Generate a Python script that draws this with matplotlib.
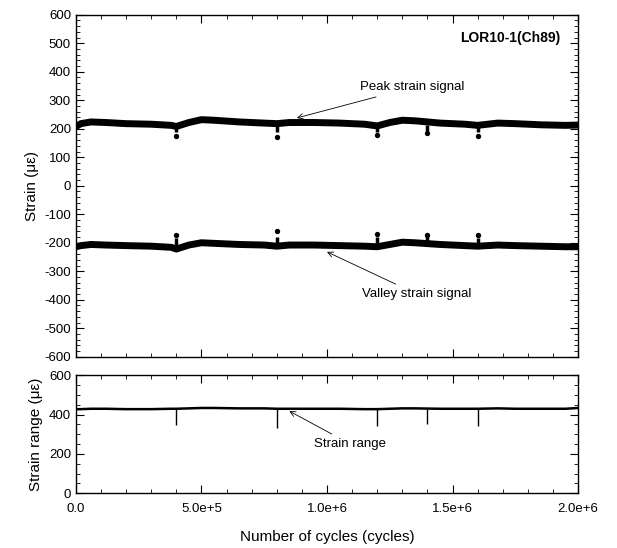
import matplotlib
matplotlib.use("Agg")
import matplotlib.pyplot as plt
from matplotlib.ticker import MultipleLocator, FuncFormatter

plt.rcParams['font.family'] = ['Liberation Sans', 'DejaVu Sans']
plt.rcParams['axes.unicode_minus'] = False

# peak / valley signal (cycles, strain in micro-strain)
cycles = [0, 0.02e6, 0.06e6, 0.12e6, 0.2e6, 0.3e6, 0.38e6, 0.4e6, 0.45e6, 0.5e6, 0.55e6,
          0.65e6, 0.75e6, 0.8e6, 0.85e6, 0.95e6, 1.05e6, 1.15e6, 1.2e6, 1.25e6, 1.3e6,
          1.35e6, 1.45e6, 1.55e6, 1.6e6, 1.68e6, 1.75e6, 1.85e6, 1.95e6, 2.0e6]
peak = [208, 218, 224, 222, 218, 216, 212, 208, 222, 232, 230, 224, 220, 218, 222, 222,
        220, 216, 210, 222, 230, 228, 220, 216, 212, 220, 218, 214, 212, 213]
valley = [-214, -210, -206, -208, -210, -212, -216, -222, -208, -200, -202, -206, -208,
          -212, -208, -208, -210, -212, -214, -206, -198, -200, -206, -210, -212, -208,
          -210, -212, -214, -214]
strain_range = [428, 428, 430, 430, 428, 428, 430, 430, 432, 434, 434, 432, 432, 430, 430,
                430, 430, 428, 428, 430, 432, 432, 430, 430, 430, 432, 430, 430, 430, 434]

# drop-outs
spike_x = [0.4e6, 0.8e6, 1.2e6, 1.4e6, 1.6e6]
peak_spike_end = [195, 196, 195, 200, 198]
peak_spike_dot = [176, 172, 178, 184, 176]
valley_spike_end = [-190, -188, -188, -178, -190]
valley_spike_dot = [-172, -158, -168, -172, -174]
range_spike_end = [345, 330, 340, 350, 340]

fig = plt.figure(figsize=(6.17, 5.48), dpi=100)
ax1 = fig.add_axes([0.123, 0.349, 0.814, 0.624])
ax2 = fig.add_axes([0.123, 0.100, 0.814, 0.215])

ax1.plot(cycles, peak, color='black', lw=5)
ax1.plot(cycles, valley, color='black', lw=5)
ax1.vlines(spike_x, [p - 8 for p in peak_spike_end], [215] * 5, color='black', lw=2.5)
ax1.vlines(spike_x, [-210] * 5, [v + 8 for v in valley_spike_end], color='black', lw=2.5)
ax1.scatter(spike_x, peak_spike_dot, s=8, color='black')
ax1.scatter(spike_x, valley_spike_dot, s=8, color='black')

ax1.set_xlim(0, 2e6)
ax1.set_ylim(-600, 600)
ax1.yaxis.set_major_locator(MultipleLocator(100))
ax1.yaxis.set_minor_locator(MultipleLocator(20))
ax1.set_ylabel('Strain (\u03bc\u03b5)', fontsize=11)
ax1.tick_params(labelbottom=False)
ax1.text(1.93e6, 505, 'LOR10-1(Ch89)', fontsize=10, fontweight='bold', ha='right')

ax1.annotate('Peak strain signal', xy=(0.88e6, 238), xytext=(1.13e6, 345),
             fontsize=9.5, va='center',
             arrowprops=dict(arrowstyle='->', color='black', lw=0.6, shrinkA=2, shrinkB=0))
ax1.annotate('Valley strain signal', xy=(1.0e6, -232), xytext=(1.14e6, -380),
             fontsize=9.5, va='center',
             arrowprops=dict(arrowstyle='->', color='black', lw=0.6, shrinkA=2, shrinkB=0))

ax2.plot(cycles, strain_range, color='black', lw=1.8)
ax2.vlines(spike_x, range_spike_end, [430] * 5, color='black', lw=1)
ax2.set_xlim(0, 2e6)
ax2.set_ylim(0, 600)
ax2.yaxis.set_major_locator(MultipleLocator(200))
ax2.yaxis.set_minor_locator(MultipleLocator(50))
ax2.set_ylabel('Strain range (\u03bc\u03b5)', fontsize=11)
ax2.set_xlabel('Number of cycles (cycles)', fontsize=11, labelpad=11)
ax2.annotate('Strain range', xy=(0.85e6, 418), xytext=(0.95e6, 250),
             fontsize=9.5, va='center',
             arrowprops=dict(arrowstyle='->', color='black', lw=0.6, shrinkA=2, shrinkB=0))


def fmt(v, pos):
    if v == 0:
        return '0.0'
    s = '%.1e' % v
    return s.replace('e+0', 'e+')


for ax in (ax1, ax2):
    ax.xaxis.set_major_locator(MultipleLocator(5e5))
    ax.xaxis.set_minor_locator(MultipleLocator(1e5))
    ax.xaxis.set_major_formatter(FuncFormatter(fmt))
    ax.tick_params(which='both', direction='in', top=True, right=True, labelsize=9.5)
    ax.tick_params(which='major', length=6)
    ax.tick_params(which='minor', length=3)
    ax.tick_params(axis='x', pad=7)
    for sp in ax.spines.values():
        sp.set_linewidth(1.0)

fig.savefig('out.png', dpi=100)
